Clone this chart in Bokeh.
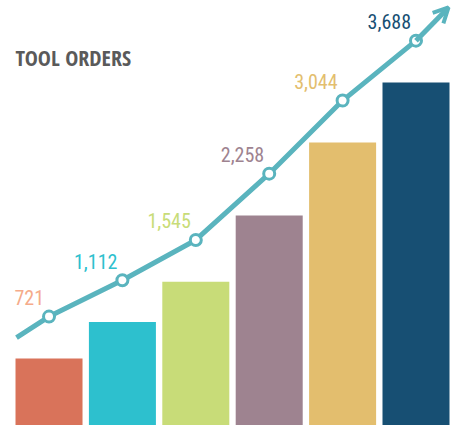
from bokeh.plotting import figure
from bokeh.models import Range1d, Label, Arrow, OpenHead, ColumnDataSource
from bokeh.core.properties import value
from bokeh.embed import file_html
from bokeh.resources import INLINE

# Data
categories = ["A", "B", "C", "D", "E", "F"]
orders = [721, 1112, 1545, 2258, 3044, 3688]
labels = ["721", "1,112", "1,545", "2,258", "3,044", "3,688"]
bar_colors = ["#d9735a", "#2dc0ce", "#c8dc78", "#9e8390", "#e3be6e", "#174f73"]
label_colors = ["#f5ab8a", "#2dc0ce", "#c8dc78", "#9e8390", "#e3be6e", "#174f73"]

LINE_COLOR = "#5ab4be"
LINE_OFFSET = 450    # line sits above the bars (value units)
LABEL_OFFSET = 205   # labels sit above the line points (value units)

xs = list(range(len(categories)))
line_y = [v + LINE_OFFSET for v in orders]
label_y = [v + LABEL_OFFSET for v in line_y]

p = figure(width=458, height=425, output_backend="svg", toolbar_location=None,
           x_range=Range1d(-0.661, 5.579), y_range=Range1d(0, 4570),
           min_border=0, outline_line_color=None)
p.axis.visible = False
p.grid.visible = False
p.background_fill_color = "white"
p.border_fill_color = "white"

src = ColumnDataSource(dict(x=xs, top=orders, color=bar_colors,
                            ly=line_y, ty=label_y, label=labels, lcolor=label_colors))

p.vbar(x="x", top="top", bottom=0, width=0.913, fill_color="color",
       line_color=None, source=src)

# trend line with lead-in and arrow
start_x = xs[0] - 0.443
start_y = line_y[0] - 225
end_x = xs[-1] + 0.443
end_y = line_y[-1] + 357
p.line([start_x] + xs, [start_y] + line_y, line_width=5, line_color=LINE_COLOR,
       line_join="round")
p.add_layout(Arrow(end=OpenHead(size=15, line_color=LINE_COLOR, line_width=4),
                   x_start=xs[-1], y_start=line_y[-1], x_end=end_x, y_end=end_y,
                   line_color=LINE_COLOR, line_width=5))

p.scatter(x="x", y="ly", size=11, fill_color="white", line_color=LINE_COLOR,
          line_width=3, source=src)

p.text(x="x", y="ty", text="label", text_color="lcolor", source=src,
       text_font=value("Roboto Condensed"), text_font_size="20px",
       text_align="right", text_baseline="alphabetic", x_offset=-5)

p.add_layout(Label(x=15, y=369, x_units="screen", y_units="screen",
                   text="TOOL ORDERS", text_font="Open Sans Condensed",
                   text_font_style="bold", text_font_size="22px",
                   text_color="#5a5a5a", text_baseline="alphabetic"))

open("out.html", "w").write(file_html(p, INLINE))
